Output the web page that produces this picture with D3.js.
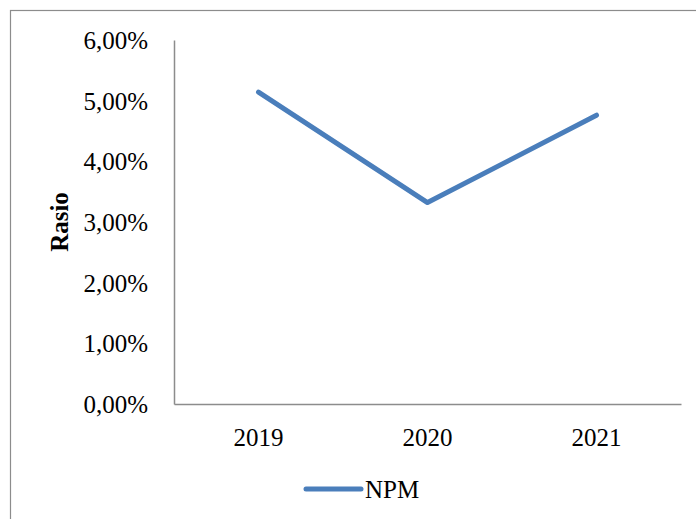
<!DOCTYPE html>
<html>
<head>
<meta charset="utf-8">
<script src="https://cdn.jsdelivr.net/npm/d3@7"></script>
<style>
  html, body { margin: 0; padding: 0; background: #fff; }
  svg { display: block; }
  text { font-family: "Liberation Serif", "Times New Roman", serif; fill: #000; }
</style>
</head>
<body>
<svg id="chart" width="696" height="519"></svg>
<script>
const categories = ["2019", "2020", "2021"];
const npmValues = [0.0514, 0.0332, 0.0476];
const yTicks = [0, 0.01, 0.02, 0.03, 0.04, 0.05, 0.06];
const seriesName = "NPM";
const yTitle = "Rasio";

const svg = d3.select("#chart");
const W = 696, H = 519;
const plot = { left: 174, right: 681, top: 40, bottom: 404 };
const lineColor = "#4a7ebb";
const FS = 25;

// outer chart border (cropped at right/bottom in reference)
svg.append("rect")
  .attr("x", 10.5).attr("y", 10.5)
  .attr("width", W + 20).attr("height", H + 20)
  .attr("fill", "#fff").attr("stroke", "#8c8c8c").attr("stroke-width", 1.2);

const x = d3.scaleBand().domain(categories).range([plot.left, plot.right]).padding(0);
const y = d3.scaleLinear().domain([0, 0.06]).range([plot.bottom, plot.top]);

const fmt = v => (v * 100).toFixed(2).replace(".", ",") + "%";

// Y axis
const yAxis = svg.append("g")
  .attr("transform", `translate(${plot.left},0)`)
  .call(d3.axisLeft(y).tickValues(yTicks).tickFormat(fmt).tickSize(0).tickPadding(26));
yAxis.select(".domain").attr("stroke", "#8c8c8c").attr("stroke-width", 1.5);
yAxis.selectAll("text").attr("font-size", FS).attr("font-family", "Liberation Serif, serif").attr("dy", "0.34em");

// X axis
const xAxis = svg.append("g")
  .attr("transform", `translate(0,${plot.bottom})`)
  .call(d3.axisBottom(x).tickSize(0));
xAxis.select(".domain").attr("stroke", "#8c8c8c").attr("stroke-width", 1.5);
xAxis.selectAll("text").attr("font-size", FS).attr("font-family", "Liberation Serif, serif")
  .attr("y", 41.5).attr("dy", 0);

// Y title
svg.append("text")
  .attr("transform", `translate(68,222) rotate(-90)`)
  .attr("text-anchor", "middle")
  .attr("font-size", FS).attr("font-weight", "bold")
  .text(yTitle);

// Line
const line = d3.line()
  .x((d, i) => x(categories[i]) + x.bandwidth() / 2)
  .y(d => y(d));
svg.append("path")
  .datum(npmValues)
  .attr("d", line)
  .attr("fill", "none")
  .attr("stroke", lineColor)
  .attr("stroke-width", 5)
  .attr("stroke-linecap", "round")
  .attr("stroke-linejoin", "round");

// Legend
const lg = svg.append("g").attr("transform", "translate(306,489)");
lg.append("line").attr("x1", 0).attr("x2", 55).attr("y1", 0).attr("y2", 0)
  .attr("stroke", lineColor).attr("stroke-width", 5).attr("stroke-linecap", "round");
lg.append("text").attr("x", 59).attr("y", 9)
  .attr("font-size", FS).text(seriesName);
</script>
</body>
</html>
